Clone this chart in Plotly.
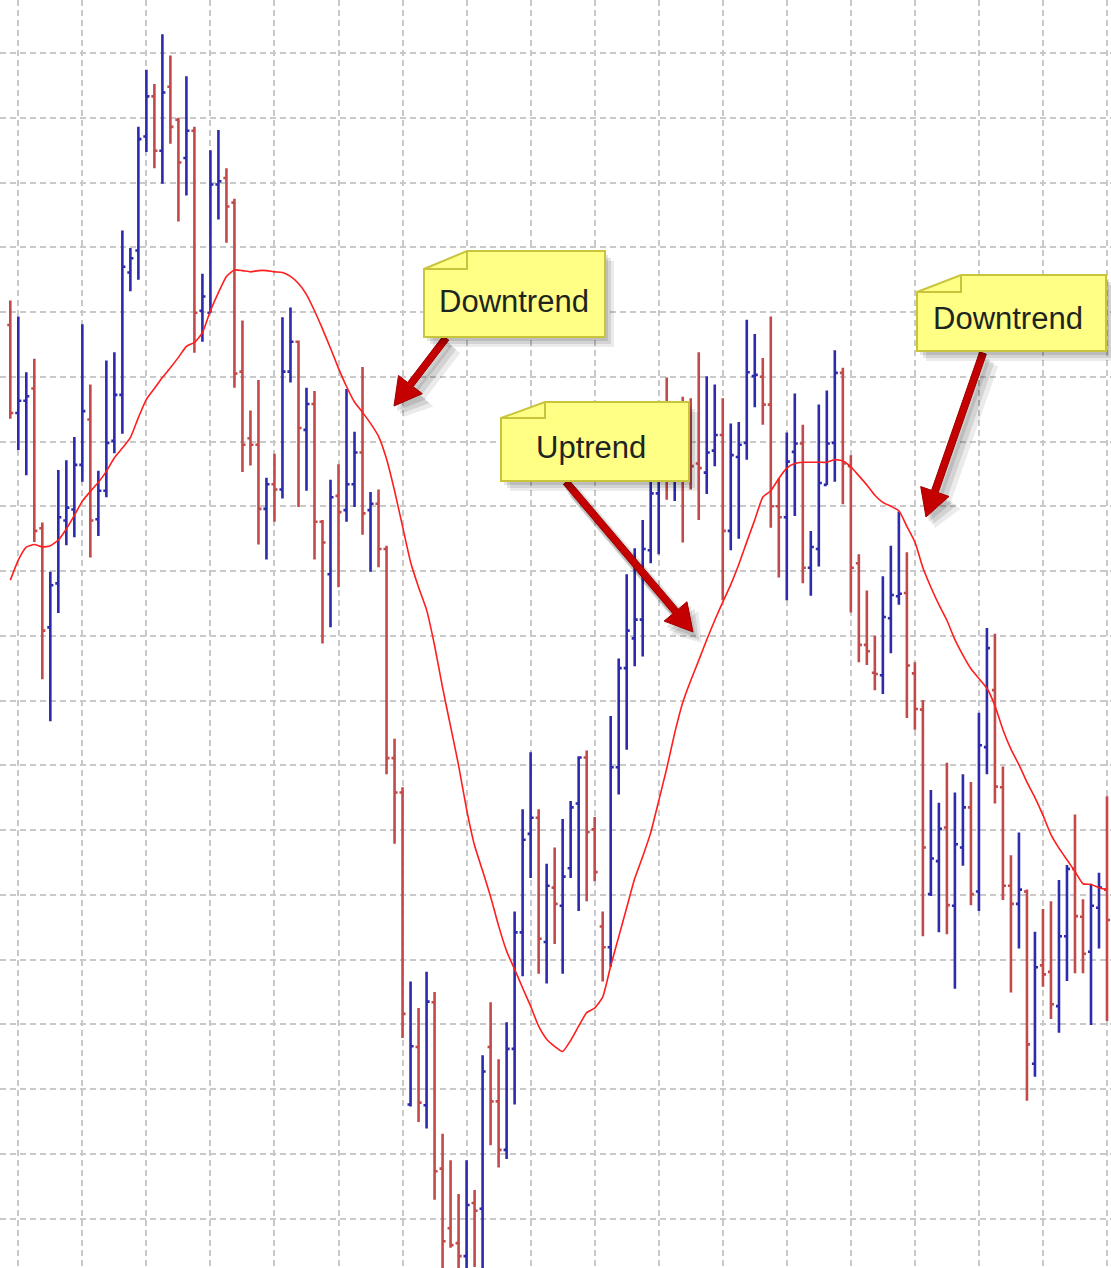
import plotly.graph_objects as go

# ---------------- data ----------------
bar_index = list(range(138))

opens = [258, 244.4, 246.3, 248.2, 226.6, 211.3, 218.1, 227.8, 229.5, 236.4,
         243.4, 228.0, 232.4, 240.1, 247.2, 266.1, 269.5, 287.1, 293.3, 284.9,
         294.8, 289.7, 283.8, 288.0, 260.2, 259.9, 279.7, 280.7, 276.9, 250.8,
         240.5, 239.5, 229.6, 233.4, 232.6, 250.8, 255.4, 241.8, 245.8, 227.6,
         219.5, 231.6, 229.4, 233.4, 238.3, 229.4, 230.4, 223.4, 191.1, 185.8,
         137.6, 146.5, 137.5, 153.4, 127.7, 118.5, 116.2, 114.2, 122.4, 121.5,
         146.5, 138.1, 130.6, 146.2, 164.2, 179.4, 181.9, 162.7, 171.1, 168.3,
         174.1, 184.1, 191.2, 180.1, 165.1, 161.9, 189.7, 205.0, 209.6, 212.5,
         223.2, 232.0, 243.0, 235.0, 240.0, 237.0, 236.6, 235.2, 238.6, 241.0,
         226.2, 237.6, 239.8, 250.1, 250.0, 245.7, 230.0, 228.3, 238.4, 239.7,
         220.5, 223.4, 233.3, 239.8, 250.6, 236.2, 221.2, 208.6, 204.3, 203.9,
         212.7, 216.1, 216.6, 204.2, 198.6, 170.1, 175.2, 180.4, 168.3, 177.3,
         183.5, 170.5, 192.8, 201.6, 186.6, 171.4, 168.6, 170.5, 143.9, 159.1,
         158.1, 152.8, 163.6, 174.0, 166.6, 161.2, 168.0, 170.8]
highs = [261.8, 259.3, 250.7, 252.8, 227.5, 219.9, 235.6, 237.1, 240.7, 258.1,
         248.8, 235.5, 252.5, 253.8, 272.6, 269.9, 288.6, 297.4, 295.2, 302.9,
         299.6, 290.0, 296.4, 288.6, 265.9, 285.0, 288.1, 282.2, 277.5, 258.7,
         244.8, 249.5, 234.4, 238.1, 259.2, 260.7, 255.6, 248.3, 247.8, 227.9,
         234.1, 236.5, 248.1, 241.5, 251.5, 232.2, 232.6, 223.9, 194.1, 186.6,
         156.6, 152.5, 158.1, 155.0, 133.1, 129.0, 123.8, 129.0, 124.4, 145.2,
         153.4, 144.6, 150.3, 167.4, 183.2, 192.0, 183.2, 174.8, 177.3, 181.7,
         184.5, 191.4, 192.3, 182.0, 167.4, 197.6, 206.5, 219.5, 223.5, 227.9,
         237.2, 240.0, 249.9, 245.0, 246.9, 246.7, 253.8, 250.1, 248.8, 246.7,
         242.8, 243.0, 258.8, 256.6, 252.9, 259.3, 234.3, 241.4, 247.4, 242.6,
         226.2, 245.7, 247.9, 254.1, 251.4, 237.9, 222.6, 217.0, 210.0, 219.2,
         223.9, 229.2, 222.9, 205.9, 200.1, 186.2, 184.2, 190.4, 185.8, 188.6,
         187.4, 198.1, 211.2, 210.3, 189.8, 176.1, 179.6, 170.8, 164.3, 167.8,
         169.0, 172.3, 174.6, 182.4, 169.3, 171.7, 173.4, 185.2]
lows = [243.5, 238.7, 234.8, 224.5, 203.3, 196.8, 213.5, 224.0, 225.2, 233.8,
        222.1, 225.4, 231.4, 238.2, 241.2, 263.2, 265.0, 284.7, 282.2, 279.8,
        286.0, 274.0, 278.0, 253.7, 255.4, 259.9, 274.3, 270.7, 248.3, 235.3,
        236.3, 224.1, 221.8, 227.6, 231.2, 249.1, 229.9, 232.4, 221.8, 208.8,
        211.3, 217.5, 227.6, 229.9, 225.6, 219.9, 220.6, 188.6, 177.9, 147.9,
        137.3, 134.9, 133.9, 122.9, 111.0, 115.5, 110.0, 110.0, 112.5, 110.0,
        131.3, 127.9, 129.2, 137.6, 157.4, 172.6, 157.8, 156.3, 162.4, 157.8,
        172.6, 167.5, 169.0, 172.1, 156.6, 158.9, 185.5, 192.4, 205.3, 206.8,
        221.2, 222.6, 231.0, 230.8, 224.4, 232.6, 227.9, 231.9, 236.2, 215.5,
        223.2, 225.0, 237.2, 245.3, 242.6, 226.7, 219.0, 215.5, 228.5, 218.1,
        216.2, 220.7, 233.3, 233.8, 230.3, 213.6, 205.9, 205.5, 201.6, 201.0,
        207.3, 214.8, 197.3, 195.5, 163.6, 169.8, 164.2, 163.9, 155.5, 174.5,
        168.4, 167.5, 188.6, 184.1, 169.2, 154.9, 161.7, 138.2, 141.9, 155.8,
        150.8, 148.7, 156.7, 157.9, 157.9, 149.9, 161.7, 150.5]
closes = [244.4, 246.3, 247.0, 226.2, 210.8, 217.8, 228.3, 229.8, 236.4, 244.7,
          227.8, 232.4, 239.8, 247.2, 267.0, 268.3, 286.7, 293.3, 284.9, 293.9,
          288.6, 283.1, 288.0, 259.9, 262.4, 279.7, 280.2, 276.3, 250.5, 239.5,
          239.5, 229.6, 233.4, 232.6, 250.8, 255.4, 242.1, 245.8, 227.6, 224.4,
          231.4, 229.1, 233.4, 238.3, 228.9, 230.4, 223.4, 191.1, 185.8, 151.6,
          146.6, 137.9, 153.5, 127.3, 116.5, 115.9, 114.2, 122.1, 121.2, 142.7,
          138.1, 130.6, 146.2, 164.2, 178.5, 181.9, 163.2, 171.4, 168.6, 172.8,
          183.5, 191.2, 179.7, 173.5, 161.9, 189.7, 205.0, 210.8, 212.5, 223.4,
          232.0, 236.0, 237.0, 238.0, 234.0, 236.2, 235.9, 238.3, 241.0, 226.2,
          237.9, 239.5, 250.7, 250.3, 245.7, 230.0, 228.3, 236.9, 239.7, 220.5,
          223.7, 233.6, 239.7, 250.6, 236.6, 220.5, 208.6, 207.6, 204.1, 212.9,
          216.3, 216.5, 205.4, 198.7, 177.3, 175.6, 180.2, 168.4, 177.8, 183.5,
          170.1, 193.1, 208.1, 186.7, 171.4, 168.6, 170.8, 146.9, 158.8, 157.7,
          153.1, 163.6, 174.0, 166.7, 160.9, 168.3, 171.1, 166.1]
moving_avg = [218.6, 221.7, 223.7, 224.1, 223.7, 223.9, 224.8, 226.5, 228.6, 230.8,
              232.3, 233.7, 235.4, 237.5, 239.0, 240.6, 243.7, 246.5, 248.2, 249.9,
              251.4, 253.0, 254.7, 255.3, 256.8, 260.2, 263.0, 265.5, 266.5, 266.4,
              266.2, 266.4, 266.4, 266.2, 266.1, 265.5, 264.4, 262.7, 260.2, 257.4,
              254.4, 251.3, 248.5, 246.1, 244.5, 242.8, 240.8, 237.3, 232.4, 226.9,
              221.4, 217.5, 214.0, 208.5, 202.0, 196.0, 190.0, 183.2, 177.6, 173.7,
              169.7, 165.2, 161.3, 158.5, 155.6, 152.8, 149.7, 147.7, 146.6, 145.8,
              147.5, 149.7, 151.8, 152.5, 154.2, 159.0, 163.5, 168.0, 172.5, 175.9,
              179.6, 184.5, 189.5, 195.0, 199.7, 203.1, 206.2, 209.4, 212.4, 215.2,
              217.9, 221.0, 224.5, 227.9, 231.4, 232.4, 234.3, 235.9, 236.6, 236.8,
              236.8, 236.8, 236.8, 237.2, 237.0, 236.1, 234.7, 233.3, 231.7, 230.6,
              230.0, 229.3, 226.9, 224.5, 220.5, 217.5, 214.8, 212.4, 209.4, 207.0,
              204.9, 203.4, 201.9, 199.2, 195.5, 192.5, 190.1, 187.4, 185.0, 182.3,
              179.3, 177.2, 175.4, 173.6, 171.7, 171.6, 171.1, 170.8]

labels = ["Downtrend", "Uptrend", "Downtrend"]

# ---------------- styling / layout ----------------
W, H = 1111, 1268
BLUE = "#2b2bab"
RED = "#c24a4a"
MA_RED = "#ff1e1e"

fig = go.Figure()
fig.add_trace(go.Ohlc(
    x=bar_index, open=opens, high=highs, low=lows, close=closes,
    increasing=dict(line=dict(color=BLUE, width=2.6)),
    decreasing=dict(line=dict(color=RED, width=2.6)),
    tickwidth=0.38, hoverinfo="skip", showlegend=False))
fig.add_trace(go.Scatter(
    x=bar_index, y=moving_avg, mode="lines",
    line=dict(color=MA_RED, width=1.6, shape="spline", smoothing=0.5),
    hoverinfo="skip", showlegend=False))


def P(px, py):
    return px / W, 1 - py / H


def poly_path(points):
    pts = [P(x, y) for x, y in points]
    return "M " + " L ".join(f"{x:.5f},{y:.5f}" for x, y in pts) + " Z"


def line_path(points):
    pts = [P(x, y) for x, y in points]
    return "M " + " L ".join(f"{x:.5f},{y:.5f}" for x, y in pts)


def arrow_points(x0, y0, x1, y1, shaft=7.0, head_len=27.0, head_half=15.0):
    import math
    dx, dy = x1 - x0, y1 - y0
    L = math.hypot(dx, dy)
    ux, uy = dx / L, dy / L
    nx, ny = -uy, ux
    bx, by = x1 - ux * head_len, y1 - uy * head_len
    s = shaft / 2
    return [
        (x0 + nx * s, y0 + ny * s),
        (bx + nx * s, by + ny * s),
        (bx + nx * head_half, by + ny * head_half),
        (x1, y1),
        (bx - nx * head_half, by - ny * head_half),
        (bx - nx * s, by - ny * s),
        (x0 - nx * s, y0 - ny * s),
    ]


shapes = []
annotations = []

# note boxes: (left, fold_x, right, tab_top, body_top, bottom, text_x, text_y)
boxes = [
    (424, 467, 605, 251, 269, 337, 514, 302),
    (501, 545, 689, 402, 418, 481, 591, 447),
    (917, 961, 1106, 275, 292, 351, 1008, 318),
]
# arrows: start -> tip in pixels
arrows = [
    ((446, 338), (394, 406)),
    ((566, 482), (693, 632)),
    ((983, 353), (926, 517)),
]

# shadows for arrows
for (s, t) in arrows:
    for k, (ox, oy, op) in enumerate([(3, 5, 0.10), (6, 8, 0.10), (9, 11, 0.08)]):
        pts = arrow_points(s[0] + ox, s[1] + oy, t[0] + ox, t[1] + oy,
                           shaft=9 + 2 * k, head_len=27, head_half=16 + k)
        shapes.append(dict(type="path", xref="paper", yref="paper", layer="above",
                           path=poly_path(pts), fillcolor=f"rgba(0,0,0,{op})",
                           line=dict(width=0)))
for (s, t) in arrows:
    shapes.append(dict(type="path", xref="paper", yref="paper", layer="above",
                       path=poly_path(arrow_points(s[0], s[1], t[0], t[1])),
                       fillcolor="#c40000", line=dict(color="#9e0000", width=1)))

# shadows for boxes
for (x0, xf, x1, yt, yb, ybot, tx, ty) in boxes:
    for ox, oy, op in [(3, 4, 0.10), (6, 7, 0.10), (9, 10, 0.08)]:
        pts = [(x0 + ox, yb + oy), (xf + ox, yt + oy), (x1 + ox, yt + oy),
               (x1 + ox, ybot + oy), (x0 + ox, ybot + oy)]
        shapes.append(dict(type="path", xref="paper", yref="paper", layer="above",
                           path=poly_path(pts), fillcolor=f"rgba(0,0,0,{op})",
                           line=dict(width=0)))
for (x0, xf, x1, yt, yb, ybot, tx, ty), label in zip(boxes, labels):
    pts = [(x0, yb), (xf, yt), (x1, yt), (x1, ybot), (x0, ybot)]
    shapes.append(dict(type="path", xref="paper", yref="paper", layer="above",
                       path=poly_path(pts), fillcolor="#ffff86",
                       line=dict(color="#c8c43c", width=2)))
    shapes.append(dict(type="path", xref="paper", yref="paper", layer="above",
                       path=line_path([(xf, yt), (xf, yb), (x0, yb)]),
                       line=dict(color="#c8c43c", width=2)))
    ax_, ay_ = P(tx, ty)
    annotations.append(dict(x=ax_, y=ay_, xref="paper", yref="paper",
                            text=label, showarrow=False,
                            xanchor="center", yanchor="middle",
                            font=dict(family="Liberation Sans, Arial, sans-serif",
                                      size=31, color="#1e2420")))

# axis ranges map bar index / price onto the 1111x1268 canvas
x_lo, x_hi = -1.287, 137.5
y_lo, y_hi = 112.36, 308.19

grid_style = dict(showgrid=True, gridcolor="#c9c9c9", gridwidth=2, griddash="6px,4px",
                  zeroline=False, showline=False, showticklabels=False, ticks="",
                  fixedrange=True)

fig.update_layout(
    width=W, height=H,
    margin=dict(l=0, r=0, t=0, b=0),
    paper_bgcolor="white", plot_bgcolor="white",
    xaxis=dict(range=[x_lo, x_hi], tick0=1, dtick=8, rangeslider=dict(visible=False),
               **grid_style),
    yaxis=dict(range=[y_lo, y_hi], tick0=0, dtick=10, **grid_style),
    shapes=shapes, annotations=annotations, showlegend=False,
)

fig.write_html(
    "out.html",
    config={"displayModeBar": False},
    post_script="document.body.style.margin='0px';document.body.style.overflow='hidden';",
)
